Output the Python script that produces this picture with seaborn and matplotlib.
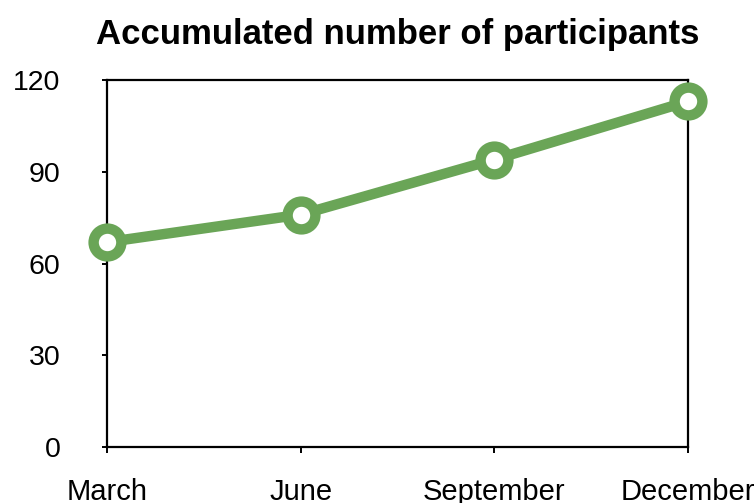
import matplotlib
matplotlib.use('Agg')
import matplotlib.pyplot as plt
import seaborn as sns
import pandas as pd

# Data
months = ['March', 'June', 'September', 'December']
participants = [67, 76, 94, 113]
yticks = [0, 30, 60, 90, 120]

GREEN = '#6aa557'

sns.set_theme(style='ticks')
plt.rcParams['font.family'] = ['Liberation Sans', 'DejaVu Sans']
plt.rcParams['text.color'] = 'black'

df = pd.DataFrame({'month': months, 'participants': participants})

fig = plt.figure(figsize=(7.56, 5.03), dpi=100)
ax = fig.add_axes([0.1415, 0.111, 0.7685, 0.730])

sns.lineplot(
    data=df, x='month', y='participants', ax=ax,
    color=GREEN, linewidth=7.5, marker='o', markersize=20,
    markerfacecolor='white', markeredgecolor=GREEN, markeredgewidth=7.5,
    sort=False, clip_on=False, zorder=5
)

ax.set_xlim(0, len(months) - 1)
ax.set_ylim(0, 120)
ax.set_yticks(yticks)
ax.set_xticks(range(len(months)))
ax.set_xticklabels(months)
ax.set_xlabel('')
ax.set_ylabel('')

for side in ['top', 'right', 'left', 'bottom']:
    ax.spines[side].set_visible(True)
    ax.spines[side].set_color('black')
    ax.spines[side].set_linewidth(1.6)

ax.tick_params(axis='x', direction='out', length=4.5, width=1.4, pad=18,
               labelsize=21, colors='black')
ax.tick_params(axis='y', direction='out', length=3.5, width=1.4, pad=30,
               labelsize=20.5, colors='black')

ax.set_title('Accumulated number of participants', fontsize=25,
             fontweight='bold', pad=26, color='black')

fig.savefig('out.png', dpi=100)
